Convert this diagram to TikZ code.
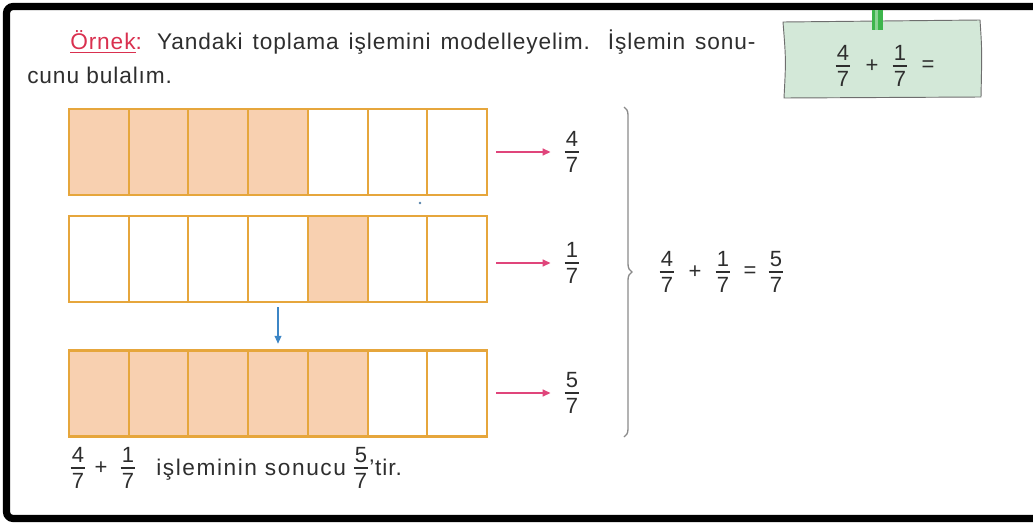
\documentclass[tikz,border=0pt]{standalone}
\usepackage{fontspec}
\setmainfont{Liberation Sans}
\newfontfamily\bodyfont{Liberation Sans}[LetterSpace=4]
\newfontfamily\widefont{Liberation Sans}[LetterSpace=7]
\usepackage{amsmath}
\usetikzlibrary{arrows.meta,decorations.pathreplacing}
\definecolor{cellfill}{HTML}{F8D0B0}
\definecolor{celledge}{HTML}{E6A63C}
\definecolor{pinkarr}{HTML}{E0457B}
\definecolor{bluearr}{HTML}{3C86C6}
\definecolor{notefill}{HTML}{D3E8D8}
\definecolor{noteedge}{HTML}{6E6E6E}
\definecolor{tabgreen}{HTML}{3DB54C}
\definecolor{txt}{HTML}{2E2E2E}
\definecolor{ornek}{HTML}{D9304F}
\definecolor{bracegray}{HTML}{8A8A8A}
\newcommand\fr[2]{$\genfrac{}{}{1pt}{1}{\hbox{\kern1pt\rule[-2.6pt]{0pt}{2.6pt}#1\kern1pt}}{\hbox{\kern1pt\rule{0pt}{14.2pt}#2\kern1pt}}$}
\tikzset{
  cell/.style={draw=celledge, line width=1.6pt, minimum width=44.78pt, minimum height=64.5pt, inner sep=0pt, outer sep=0pt},
  shaded/.style={fill=cellfill},
  frac/.style={inner sep=0pt, text=txt, font=\fontsize{16.5}{19}\selectfont},
  sym/.style={inner sep=0pt, text=txt, font=\fontsize{16.5}{19}\selectfont},
  body/.style={inner sep=0pt, text=txt, font=\fontsize{17}{20}\bodyfont},
  wide/.style={inner sep=0pt, text=txt, font=\fontsize{17}{20}\widefont},
  pinkline/.style={draw=pinkarr, line width=1.5pt, -{Triangle[length=6pt,width=5pt]}, shorten <=7pt, shorten >=9pt},
  blueline/.style={draw=bluearr, line width=1.2pt, -{Triangle[length=6pt,width=5pt]}, shorten <=4pt, shorten >=5pt},
  bracestyle/.style={draw=bracegray, line width=1pt, decorate, decoration={brace, amplitude=6pt, aspect=0.5}}
}
\begin{document}
\begin{tikzpicture}[x=0.75pt,y=-0.75pt]
\useasboundingbox (0,0) rectangle (1033,525);
\clip (0,0) rectangle (1033,525);
% outer frame
\draw[line width=5.4pt, rounded corners=5pt] (6.5,6.5) rectangle (1045,518.5);

% title text
\node[body, anchor=base west] (t1) at (70,49) {\makebox[514pt][s]{\textcolor{ornek}{\underline{Örnek}:} Yandaki toplama işlemini modelleyelim. İşlemin sonu-}};
\node[body, anchor=base west] (t2) at (27,83) {cunu bulalım.};

% note
\fill[notefill, draw=noteedge, line width=0.7pt] (783,22) -- (980,20) .. controls (982,50) .. (981,97) -- (784,98) .. controls (786,60) .. (783,22) -- cycle;
\fill[tabgreen] (872,10) rectangle (883,30);
\fill[tabgreen!60!white] (875,10) rectangle (878,30);
\node[frac] (n1) at (843,66) {\fr{4}{7}};
\node[sym] (n2) at (872,66) {+};
\node[frac] (n3) at (900,66) {\fr{1}{7}};
\node[sym] (n4) at (928,66) {=};

% cells
\foreach \r/\y in {1/152, 2/259, 3/393.5} {
  \foreach \c in {1,...,7} {
    \pgfmathsetmacro\cx{69+29.857+59.714*(\c-1)}
    \node[cell] (r\r c\c) at (\cx,\y) {};
  }
}
\foreach \c in {1,...,4} {\node[cell, shaded] at (r1c\c) {};}
\node[cell, shaded] at (r2c5) {};
\foreach \c in {1,...,5} {\node[cell, shaded] at (r3c\c) {};}

% fractions
\node[frac] (f1) at (572,152) {\fr{4}{7}};
\node[frac] (f2) at (572,263) {\fr{1}{7}};
\node[frac] (f3) at (572,393) {\fr{5}{7}};

\draw[pinkline] (r1c7.east |- f1) -- (f1.west);
\draw[pinkline] (r2c7.east |- f2) -- (f2.west);
\draw[pinkline] (r3c7.east |- f3) -- (f3.west);

% blue arrow
\draw[blueline] (r2c4.south) -- (r3c4.north);

% speck
\fill[bluearr!60!gray] (420,203) circle (1.1pt);

% brace
\coordinate (bt) at (624,107);
\coordinate (bb) at (624,437);
\draw[bracestyle] (bt) -- (bb);

% equation
\node[frac] (e1) at (667,272) {\fr{4}{7}};
\node[sym]  (e2) at (695,272) {+};
\node[frac] (e3) at (723,272) {\fr{1}{7}};
\node[sym]  (e4) at (750,272) {=};
\node[frac] (e5) at (776,272) {\fr{5}{7}};

% bottom sentence
\node[frac] (b1) at (78,468) {\fr{4}{7}};
\node[sym]  (b2) at (101,468) {+};
\node[frac] (b3) at (128,468) {\fr{1}{7}};
\node[wide, anchor=base west] (b4) at (156,475) {işleminin sonucu};
\node[frac] (b5) at (361,468) {\fr{5}{7}};
\node[body, anchor=base west] (b6) at (369,475) {’tir.};
\end{tikzpicture}
\end{document}
